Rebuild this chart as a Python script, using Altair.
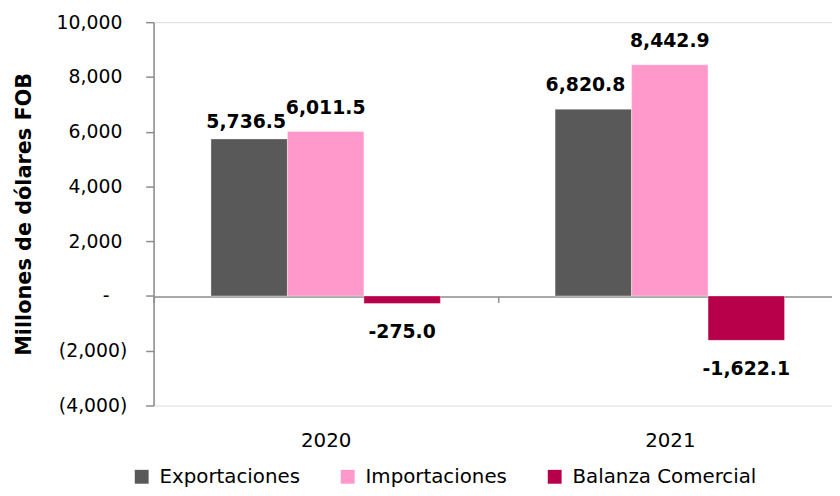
import altair as alt
import pandas as pd

years = ["2020", "2021"]
series = ["Exportaciones", "Importaciones", "Balanza Comercial"]
exportaciones = [5736.5, 6820.8]
importaciones = [6011.5, 8442.9]
balanza = [-275.0, -1622.1]
colors = ["#595959", "#FF99CC", "#B8004A"]
y_ticks = [-4000, -2000, 0, 2000, 4000, 6000, 8000, 10000]

rows = []
for i, y in enumerate(years):
    rows.append({"Año": y, "Serie": series[0], "Valor": exportaciones[i]})
    rows.append({"Año": y, "Serie": series[1], "Valor": importaciones[i]})
    rows.append({"Año": y, "Serie": series[2], "Valor": balanza[i]})
df = pd.DataFrame(rows)
df["Etiqueta"] = df["Valor"].map(lambda v: f"{v:,.1f}")

FONT = "DejaVu Sans"
W = 695
H = 387

x_enc = alt.X("Año:N", sort=years,
              scale=alt.Scale(paddingInner=0, paddingOuter=0),
              axis=alt.Axis(title=None, orient="bottom", offset=-110, domainColor="#8c8c8c",
                            domainWidth=1.5, tickColor="#8c8c8c", tickSize=6, tickWidth=1.5,
                            tickBand="extent", labelPadding=129, labelBaseline="top",
                            labelFont=FONT, labelFontSize=20, labelColor="#000000",
                            labelAngle=0, grid=False))
xo_enc = alt.XOffset("Serie:N", sort=series,
                     scale=alt.Scale(paddingInner=0, paddingOuter=0.75))
label_expr = ("datum.value == 0 ? '-' : (datum.value < 0 ? '(' + format(-datum.value, ',') + ')' "
              ": format(datum.value, ','))")
y_enc = alt.Y("Valor:Q",
              scale=alt.Scale(domain=[-4000, 10000], nice=False, zero=True),
              axis=alt.Axis(title="Millones de dólares FOB", values=y_ticks,
                            labelExpr=label_expr,
                            labelFont=FONT, labelFontSize=19, labelColor="#000000",
                            labelPadding={"condition": [{"test": "datum.value == 0", "value": 37},
                                                        {"test": "datum.value < 0", "value": 19}],
                                          "value": 24},
                            domainColor="#8c8c8c", domainWidth=1.5,
                            tickColor="#8c8c8c", tickSize=8, tickWidth=1.5, grid=False,
                            titleFont=FONT, titleFontSize=21, titleFontWeight="bold",
                            titleColor="#000000", titleX=-130, titleY=H / 2,
                            titleAngle=270, titleAlign="center", titleBaseline="middle"))

base = alt.Chart(df)

bars = base.mark_bar(stroke="#ffffff", strokeWidth=0.6, strokeOpacity=0.6).encode(
    x=x_enc, xOffset=xo_enc, y=y_enc,
    color=alt.Color("Serie:N", sort=series,
                    scale=alt.Scale(domain=series, range=colors),
                    legend=alt.Legend(title=None, orient="none", direction="horizontal",
                                      legendX=-22, legendY=449, symbolType="square",
                                      symbolSize=196, symbolStrokeWidth=0,
                                      labelFont=FONT, labelFontSize=20, labelLimit=400,
                                      labelColor="#000000", labelOffset=8,
                                      columnPadding=38)),
)

def labels(filt, dx, dy, baseline):
    return base.transform_filter(filt).mark_text(
        font=FONT, fontSize=19, fontWeight="bold", color="#000000",
        dx=dx, dy=dy, baseline=baseline, align="center"
    ).encode(x=alt.X("Año:N", sort=years), xOffset=alt.XOffset("Serie:N", sort=series),
             y="Valor:Q", text="Etiqueta:N")

lab_imp = labels("datum.Serie == 'Importaciones'", 0, -18, "alphabetic")
lab_exp21 = labels("datum.Serie == 'Exportaciones' && datum['Año'] == '2021'", -8, -18, "alphabetic")
lab_exp20 = labels("datum.Serie == 'Exportaciones' && datum['Año'] == '2020'", -3, -11, "alphabetic")
lab_neg = labels("datum.Valor < 0", 0, 20, "top")

chart = alt.layer(bars, lab_imp, lab_exp21, lab_exp20, lab_neg).properties(
    width=W, height=H,
    autosize=alt.AutoSizeParams(type="none"),
    padding={"left": 147, "top": 12, "right": -10, "bottom": 81},
).configure_view(stroke=None).configure(background="#ffffff")

chart.save("out.html", embed_options={"renderer": "svg", "actions": False})
